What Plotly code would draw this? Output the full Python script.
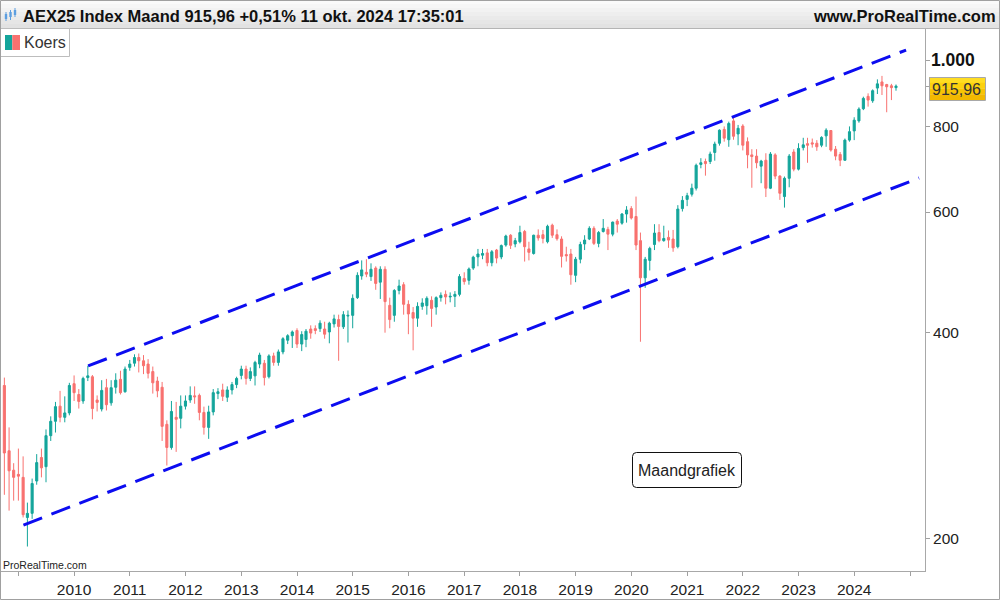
import math
import pandas as pd
import plotly.graph_objects as go

# ---------------- data (monthly AEX candles, Oct 2008 .. Oct 2024) ----------------
months = pd.date_range("2008-10-01", periods=193, freq="MS")

open_ = [
    335, 269, 252,
    248.5, 246, 215, 218, 243, 263, 255, 283, 297, 312.5, 301, 305.5,
    337, 325, 318, 344, 345, 319, 309.5, 332.5, 316, 333, 342, 328,
    356, 361, 368, 364, 360, 351, 340, 333, 294, 272, 301, 300,
    312.5, 319, 323.5, 324, 306, 291, 306.5, 326, 330, 322, 330, 336,
    346.5, 354, 343, 346, 360, 361, 345, 370, 362, 375, 390, 396,
    403, 385, 391, 405, 405.5, 405.5, 405, 401, 412, 418, 408, 423,
    424, 450, 484, 490, 483, 497, 474, 495, 438.5, 424, 461, 470,
    440, 428, 420, 437, 438, 446, 436, 450, 455, 451, 452, 455,
    480, 477, 497, 516, 519, 523, 506, 528, 516, 537, 555, 539,
    543, 562, 530, 522, 555, 556, 543, 574, 556, 548, 520, 521,
    485, 512, 539, 548, 568, 540, 562, 566, 557, 582, 578, 596,
    607, 591, 545, 481, 510, 538, 560, 545, 551, 548, 534, 607,
    626, 637, 650, 704, 711, 711, 733, 756, 792, 765, 815, 780,
    801, 760, 727, 724, 700, 714, 650, 727, 677, 632, 672, 734,
    693, 745, 755, 757, 756, 751, 775, 789, 741, 728, 714, 764,
    788, 815, 849, 885, 872, 910, 929, 921, 917, 911.3,
]
high = [
    344, 291, 258,
    271, 264, 226, 245, 266, 271, 289, 302, 317, 329, 323, 338,
    346.5, 331, 345, 358, 347, 324, 341, 342.5, 341, 349, 352, 357,
    365, 372, 373, 371, 366, 357, 345, 339, 298, 318, 317, 324,
    324, 334, 334, 326, 312, 313, 331, 332, 337, 334, 339, 345,
    358, 358, 356, 364, 374, 365, 372, 374, 378, 394, 398, 403,
    406, 402, 405, 410, 410, 417, 415, 415, 425, 425, 430, 431,
    455, 490, 510, 512, 505, 500, 500, 500, 450, 463, 478, 474,
    446, 436, 443, 449, 452, 452, 452, 458, 461, 458, 460, 487,
    490, 498, 518, 530, 530, 530, 528, 530, 538, 556, 557, 550,
    573, 565, 543, 556, 566, 565, 575, 577, 566, 553, 534, 530,
    516, 543, 555, 572, 572, 563, 586, 571, 581, 586, 598, 612,
    612, 632, 560, 516, 534, 576, 576, 573, 564, 565, 614, 633,
    640, 660, 706, 719, 718, 735, 760, 792, 800, 813, 826, 804,
    806, 771, 741, 741, 715, 731, 734, 731, 679, 676, 729, 741,
    756, 770, 770, 768, 764, 774, 795, 790, 749, 734, 768, 800,
    825, 853, 884, 894, 906, 937, 948, 923, 923, 921,
]
low = [
    232, 220, 227.5,
    227.5, 215, 195, 214, 240, 246, 242, 278, 286, 296, 296, 303,
    318, 310, 315, 340, 299, 307, 307, 308, 313, 326, 325, 327,
    352, 357, 350, 348, 343, 326, 322, 278, 256, 270, 268, 290,
    309, 316, 315, 298, 284, 280, 303, 320, 318, 317, 325, 332,
    342, 336, 340, 335, 355, 335, 343, 358, 358, 372, 385, 380,
    380, 376, 381, 392, 398, 401, 392, 386, 407, 364, 405, 387,
    406, 448, 478, 482, 476, 462, 448, 400, 406, 415, 455, 425,
    398, 377, 408, 432, 425, 408, 425, 444, 440, 443, 436, 452,
    470, 470, 494, 500, 512, 500, 500, 505, 512, 534, 530, 533,
    540, 508, 510, 520, 545, 540, 540, 550, 545, 498, 508, 470,
    474, 505, 528, 546, 537, 533, 560, 528, 553, 560, 575, 579,
    585, 528, 388, 465, 493, 528, 542, 543, 532, 525, 531, 601,
    612, 632, 645, 695, 678, 705, 713, 750, 760, 747, 765, 751,
    738, 695, 651, 695, 661, 631, 648, 670, 625, 609, 652, 688,
    690, 738, 708, 745, 737, 746, 747, 735, 714, 700, 713, 760,
    764, 810, 845, 855, 866, 892, 889, 839, 874, 902,
]
close = [
    267, 251.5, 246,
    247, 217, 218, 241, 258.5, 254, 283, 297, 312, 301, 305.5, 335,
    327, 317.5, 343, 346, 310, 316.5, 329.5, 314, 332.5, 341, 327, 354,
    360, 368, 364, 358, 349, 338, 329, 292, 272, 307, 299, 312.5,
    318, 324, 322.5, 306, 291, 306.5, 327, 328, 323, 330, 336, 343,
    354, 343, 351, 362, 371, 344, 370, 362, 375, 392, 396, 401,
    385, 397.5, 402, 399.5, 403, 413, 398, 413, 419, 408.5, 425, 424,
    449, 485, 494, 487, 495, 472, 495, 444, 418, 461, 468, 440,
    426, 420, 437, 442, 449, 434, 450, 453.5, 451, 452, 455, 483,
    475, 495.5, 515.5, 521, 522, 506, 525, 514, 536, 553.5, 536.5, 545,
    560, 534, 524, 555, 550, 549, 572, 555, 548.5, 517, 518, 486,
    512, 538, 546, 568, 540, 560, 568, 557, 580, 576, 596, 604,
    588, 537, 481, 512, 531, 559, 545, 549, 546, 532, 606, 624,
    634, 650, 702, 708, 706, 729, 754, 790, 769, 808, 774, 795,
    751, 727, 723, 708, 712, 650, 729, 677, 639, 672, 724, 693,
    743, 752, 751, 754, 747, 771, 790, 739, 724, 714, 764, 786,
    817, 848, 879, 874, 902, 923, 917, 914, 911.3, 915.96,
]

# channel lines (two points each)
upper_dates = ["2010-04-03", "2024-12-06"]
upper_vals = [357.7, 1034.0]
lower_dates = ["2009-02-03", "2025-03-01"]
lower_vals = [209.6, 672.7]

last_price = 915.96
last_price_text = "915,96"

x_tick_years = list(range(2009, 2026))
x_tick_text = ["" if y in (2009, 2025) else str(y) for y in x_tick_years]
y_tick_vals = [200, 400, 600, 800, 1000]
y_tick_text = ["200", "400", "600", "800", ""]
y_top_label = "1.000"

title_text = "AEX25 Index Maand 915,96 +0,51% 11 okt. 2024 17:35:01"
site_text = "www.ProRealTime.com"
legend_text = "Koers"
note_text = "Maandgrafiek"
watermark_text = "ProRealTime.com"

# ---------------- layout helpers ----------------
W, H = 1000, 600
ML, MR, MT, MB = 1, 75, 29, 29
PW = W - ML - MR
PH = H - MT - MB


def px(x):
    return (x - ML) / PW


def py(y):
    return (H - MB - y) / PH


UP = "#14a59b"
DOWN = "#f8716f"
BLUE = "#0c0cf0"
FONT = "Liberation Sans, Arial, sans-serif"

shapes = []


def rect(x0, y0, x1, y1, fill="rgba(0,0,0,0)", line="rgba(0,0,0,0)", lw=0):
    shapes.append(dict(type="rect", xref="paper", yref="paper",
                       x0=px(x0), x1=px(x1), y0=py(y1), y1=py(y0),
                       fillcolor=fill, line=dict(color=line, width=lw), layer="above"))


def hline(x0, x1, y, color, lw=1):
    shapes.append(dict(type="line", xref="paper", yref="paper",
                       x0=px(x0), x1=px(x1), y0=py(y), y1=py(y),
                       line=dict(color=color, width=lw), layer="above"))


def vline(x, y0, y1, color, lw=1):
    shapes.append(dict(type="line", xref="paper", yref="paper",
                       x0=px(x), x1=px(x), y0=py(y0), y1=py(y1),
                       line=dict(color=color, width=lw), layer="above"))


# title bar gradient
n = 7
for k in range(n):
    c = int(250 - (250 - 226) * k / (n - 1))
    rect(0, k * 4, 1000, k * 4 + 4, fill=f"rgb({c},{c},{c})")
hline(0, 1000, 28.5, "#b4b4b4")

# title icon (small candles)
ic = "#5c9ee0"
for cx, b0, b1, w0, w1 in ((6, 14, 19, 12, 21), (10.5, 12, 17, 10, 20), (15, 10, 15, 8, 17)):
    vline(cx, w0, w1, ic, 1)
    rect(cx - 1.2, b0, cx + 1.2, b1, fill=ic)

# legend box
rect(0.5, 28.5, 69.5, 56.5, fill="white", line="#bdbdbd", lw=1)
rect(5, 35, 12.3, 50, fill=UP)
rect(12.3, 35, 20, 50, fill=DOWN)

# price tag gradient box
tag_cols = ["#ffdd22", "#fcd10e", "#f8c404", "#f2b800"]
ty0, ty1 = 77, 100
step = (ty1 - ty0) / len(tag_cols)
for i, col in enumerate(tag_cols):
    rect(929, ty0 + i * step, 985, ty0 + (i + 1) * step + 0.3, fill=col)
rect(929.5, 77.5, 985.5, 100.5, line="#a8a8a8", lw=1)


# rounded note box
def rounded_path(x0, y0, x1, y1, r):
    X, Y = px, py
    return (f"M {X(x0 + r)},{Y(y0)} L {X(x1 - r)},{Y(y0)} Q {X(x1)},{Y(y0)} {X(x1)},{Y(y0 + r)} "
            f"L {X(x1)},{Y(y1 - r)} Q {X(x1)},{Y(y1)} {X(x1 - r)},{Y(y1)} "
            f"L {X(x0 + r)},{Y(y1)} Q {X(x0)},{Y(y1)} {X(x0)},{Y(y1 - r)} "
            f"L {X(x0)},{Y(y0 + r)} Q {X(x0)},{Y(y0)} {X(x0 + r)},{Y(y0)} Z")


shapes.append(dict(type="path", xref="paper", yref="paper",
                   path=rounded_path(632.5, 452.5, 741.5, 487.5, 4),
                   fillcolor="white", line=dict(color="#111", width=1), layer="above"))

# outer border
rect(0.5, 0.5, 999.5, 599.5, line="#a0a0a0", lw=1)

annotations = [
    dict(text=f"<b>{title_text}</b>", x=px(22.7), y=py(16), xanchor="left", yanchor="middle",
         font=dict(size=16.5, color="#111", family=FONT)),
    dict(text=f"<b>{site_text}</b>", x=px(996), y=py(16), xanchor="right", yanchor="middle",
         font=dict(size=16.5, color="#111", family=FONT)),
    dict(text=legend_text, x=px(24), y=py(43), xanchor="left", yanchor="middle",
         font=dict(size=16, color="#333", family=FONT)),
    dict(text=watermark_text, x=px(2.7), y=py(564.5), xanchor="left", yanchor="middle",
         font=dict(size=10.5, color="#222", family=FONT)),
    dict(text=note_text, x=px(687), y=py(470), xanchor="center", yanchor="middle",
         font=dict(size=16, color="#222", family=FONT)),
    dict(text=last_price_text, x=px(957), y=py(89), xanchor="center", yanchor="middle",
         font=dict(size=16, color="#333", family=FONT)),
]
for a in annotations:
    a.update(xref="paper", yref="paper", showarrow=False, borderpad=0, borderwidth=0)
# bold top label of the price axis, tied to the axis value
annotations.append(dict(text=f"<b>{y_top_label}</b>", xref="paper", yref="y",
                        x=px(931.5), y=math.log10(1000), xanchor="left", yanchor="middle",
                        showarrow=False, borderpad=0, borderwidth=0,
                        font=dict(size=17.5, color="#111", family=FONT)))

# ---------------- figure ----------------
fig = go.Figure()
fig.add_trace(go.Candlestick(
    x=months, open=open_, high=high, low=low, close=close,
    increasing=dict(line=dict(color=UP, width=1), fillcolor=UP),
    decreasing=dict(line=dict(color=DOWN, width=1), fillcolor=DOWN),
    whiskerwidth=0, showlegend=False, hoverinfo="skip"))
for dates, vals in ((upper_dates, upper_vals), (lower_dates, lower_vals)):
    fig.add_trace(go.Scatter(x=dates, y=vals, mode="lines",
                             line=dict(color=BLUE, width=3, dash="20px,10px"),
                             showlegend=False, hoverinfo="skip"))

fig.update_layout(
    width=W, height=H,
    margin=dict(l=ML, r=MR, t=MT, b=MB, pad=0, autoexpand=False),
    paper_bgcolor="white", plot_bgcolor="white", showlegend=False,
    font=dict(family=FONT, color="#222", size=15),
    shapes=shapes, annotations=annotations, hovermode=False,
)
fig.update_xaxes(
    type="date", range=["2008-09-09", "2025-04-09"],
    tickvals=[f"{y}-01-01" for y in x_tick_years], ticktext=x_tick_text,
    ticks="outside", ticklen=4, tickcolor="#a0a0a0",
    showline=True, linecolor="#a8a8a8", linewidth=1,
    showgrid=False, zeroline=False, rangeslider=dict(visible=False),
    tickfont=dict(size=15.5, color="#222", family=FONT), automargin=False,
)
fig.update_yaxes(
    type="log", side="right", range=[math.log10(179.6), math.log10(1109.8)],
    tickvals=y_tick_vals + [last_price], ticktext=y_tick_text + [""],
    ticks="outside", ticklen=4, tickcolor="#a0a0a0",
    showline=True, linecolor="#a8a8a8", linewidth=1,
    showgrid=False, zeroline=False,
    tickfont=dict(size=15.5, color="#222", family=FONT), automargin=False,
)

fig.write_html("out.html", config={"displayModeBar": False})
